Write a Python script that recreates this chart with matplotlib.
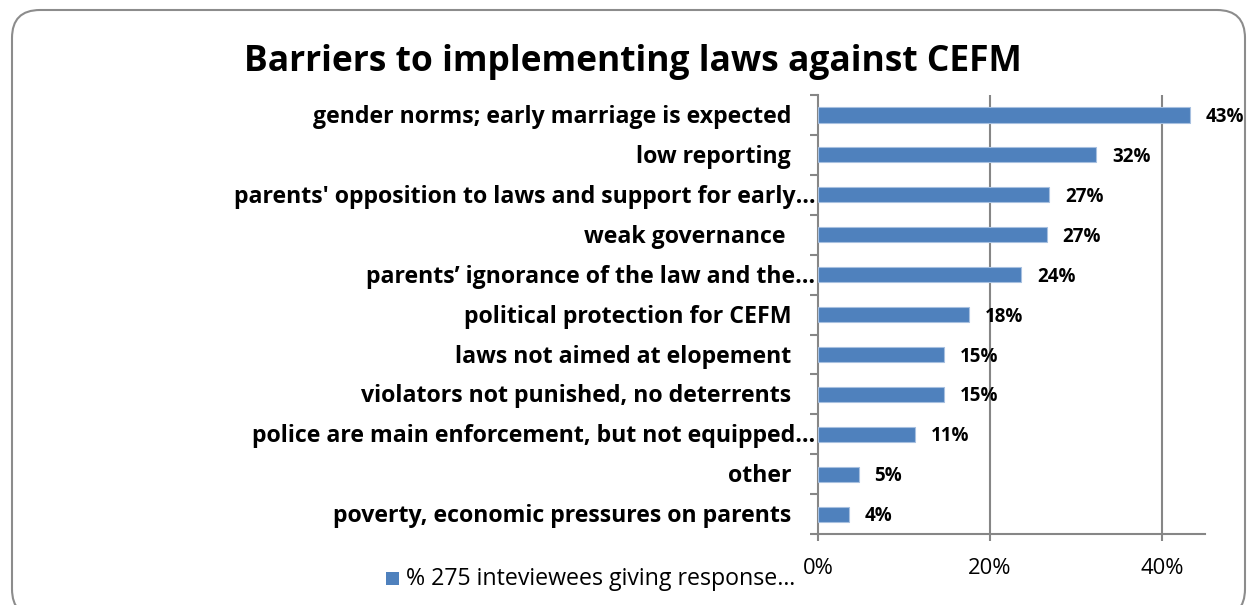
import matplotlib.pyplot as plt
from matplotlib.patches import FancyBboxPatch, Rectangle

# survey results, top to bottom
categories = [
    "gender norms; early marriage is expected",
    "low reporting",
    "parents' opposition to laws and support for early\u2026",
    "weak governance ",
    "parents\u2019 ignorance of the law and the\u2026",
    "political protection for CEFM",
    "laws not aimed at elopement",
    "violators not punished, no deterrents",
    "police are main enforcement, but not equipped\u2026",
    "other",
    "poverty, economic pressures on parents",
]
values = [43.3, 32.4, 26.9, 26.6, 23.6, 17.6, 14.6, 14.6, 11.3, 4.7, 3.6]
xticks = [0, 20, 40]
xticklabels = ["0%", "20%", "40%"]
title = "Barriers to implementing laws against CEFM"
legend_label = "% 275 inteviewees giving response\u2026"

bar_color = "#4F81BD"
grid_color = "#868686"

plt.rcParams["font.family"] = ["Open Sans", "DejaVu Sans"]

fig = plt.figure(figsize=(12.51, 6.05), dpi=100)

# rounded chart border
border = FancyBboxPatch((12, -12), 1233, 607, boxstyle="round,pad=0,rounding_size=28",
                        transform=None, facecolor="none", edgecolor="#8c8c8c", linewidth=1.5)
fig.patches.append(border)

ax = fig.add_axes([0.654, 0.117, 0.309, 0.726])
ypos = list(range(len(categories)))
ax.barh(ypos, values, height=0.38, color=bar_color, edgecolor="#a7c0e0", linewidth=0.8, zorder=3)
ax.set_xlim(0, 45)
ax.set_ylim(len(categories) - 0.5, -0.5)

ax.set_xticks(xticks)
ax.set_xticklabels(xticklabels, fontsize=15.8)
ax.tick_params(axis="x", length=5, width=1.5, color=grid_color, pad=12)
ax.set_yticks([])
ax.set_yticks([i - 0.5 for i in range(len(categories) + 1)], minor=True)
ax.tick_params(axis="y", which="minor", length=6, width=1.5, color=grid_color, direction="out")
for x in xticks[1:]:
    ax.axvline(x, color=grid_color, linewidth=1.5, zorder=1)

for s in ["top", "right"]:
    ax.spines[s].set_visible(False)
for s in ["left", "bottom"]:
    ax.spines[s].set_color(grid_color)
    ax.spines[s].set_linewidth(1.5)

# category labels; truncated ones sit closer to the axis
for i, (cat, v) in enumerate(zip(categories, values)):
    off = -3 if cat.endswith("\u2026") else -27
    ax.annotate(cat, xy=(0, i), xycoords=("axes fraction", "data"),
                xytext=(off, -2), textcoords="offset pixels",
                ha="right", va="center", fontsize=16.7, fontweight="bold")
    ax.annotate(f"{v:.0f}%", xy=(v, i), xytext=(16, -2), textcoords="offset pixels",
                ha="left", va="center", fontsize=13.5, fontweight="bold")

fig.text(633 / 1251, 1 - 62 / 605, title, ha="center", va="center",
         fontsize=25.5, fontweight="bold")

# legend
fig.patches.append(Rectangle((386 / 1251, 1 - 585 / 605), 13 / 1251, 13 / 605,
                             transform=fig.transFigure, facecolor=bar_color, edgecolor="none"))
fig.text(406 / 1251, 1 - 579 / 605, legend_label, ha="left", va="center", fontsize=16.7)

fig.savefig("out.png", dpi=100)
